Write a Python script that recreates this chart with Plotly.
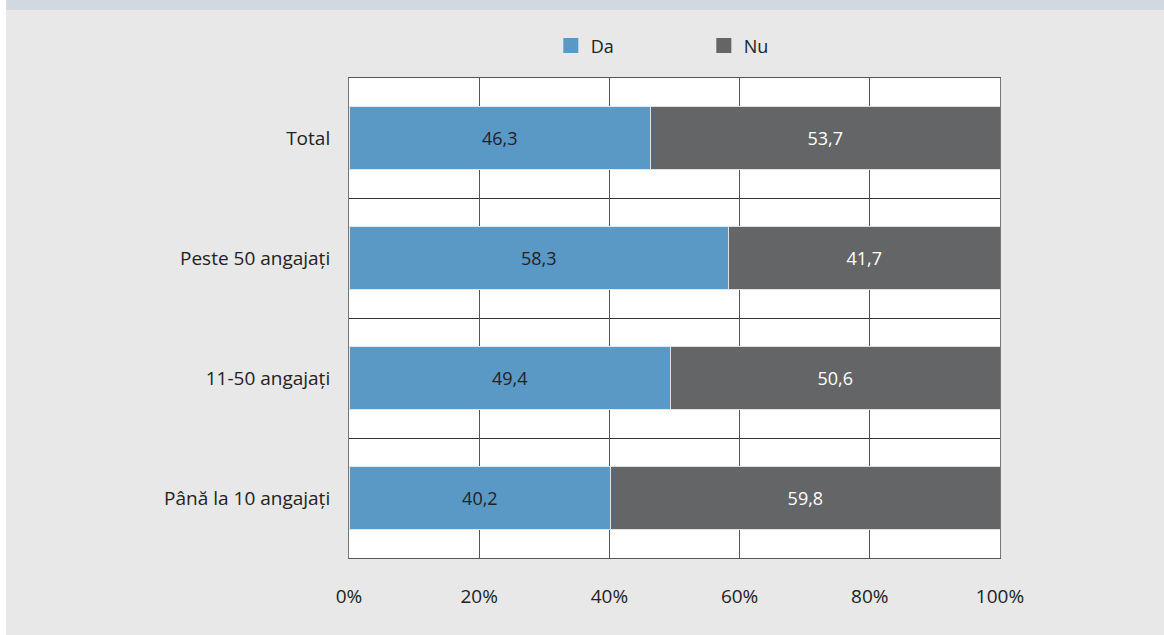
import plotly.graph_objects as go

categories = ["Total", "Peste 50 angajați", "11-50 angajați", "Până la 10 angajați"]
da_values = [46.3, 58.3, 49.4, 40.2]
nu_values = [53.7, 41.7, 50.6, 59.8]
x_ticks = [0, 20, 40, 60, 80, 100]
x_tick_labels = ["0%", "20%", "40%", "60%", "80%", "100%"]
series_names = ["Da", "Nu"]
series_colors = ["#5a98c5", "#646567"]

ypos = list(range(len(categories)))

def fmt(v):
    return f"{v:.1f}".replace(".", ",")

FONT = "Open Sans, Noto Sans, sans-serif"

fig = go.Figure()
fig.add_trace(go.Bar(
    name=series_names[0], y=ypos, x=da_values, orientation="h",
    marker=dict(color=series_colors[0], line=dict(color="#dfe8f0", width=1)),
    text=[fmt(v) for v in da_values], textposition="inside", insidetextanchor="middle",
    textfont=dict(color="#222222", size=18, family=FONT),
    width=0.525, showlegend=False,
))
fig.add_trace(go.Bar(
    name=series_names[1], y=ypos, x=nu_values, orientation="h",
    marker=dict(color=series_colors[1], line=dict(color="#e0e0e0", width=1)),
    text=[fmt(v) for v in nu_values], textposition="inside", insidetextanchor="middle",
    textfont=dict(color="#ffffff", size=18, family=FONT),
    width=0.525, showlegend=False,
))
# legend entries with larger square swatches
for name, col in zip(series_names, series_colors):
    fig.add_trace(go.Scatter(
        name=name, x=[None], y=[None], mode="markers",
        marker=dict(symbol="square", size=15, color=col),
        showlegend=True, hoverinfo="skip",
    ))

fig.update_layout(
    barmode="stack",
    width=1164, height=635,
    paper_bgcolor="#e8e8e8",
    plot_bgcolor="#ffffff",
    margin=dict(l=349, r=164, t=78, b=77),
    font=dict(family=FONT, size=18, color="#222222"),
    showlegend=True,
    legend=dict(
        orientation="h", x=0.31, xanchor="left", y=1.067, yanchor="middle",
        font=dict(size=18, color="#222222", family=FONT),
        entrywidth=108, entrywidthmode="pixels",
        bgcolor="rgba(0,0,0,0)", traceorder="normal",
    ),
    uniformtext=dict(mode="show", minsize=10),
    shapes=[
        dict(type="rect", xref="paper", yref="paper",
             x0=-0.55, x1=1.3, y0=1.0 + 68/480, y1=1.3,
             fillcolor="#d0d9e0", line=dict(width=0), layer="below"),
        dict(type="rect", xref="paper", yref="paper",
             x0=-0.6, x1=-0.536 + 6/651, y0=-0.3, y1=1.3,
             fillcolor="#ffffff", line=dict(width=0), layer="below"),
    ],
)

fig.update_xaxes(
    range=[0, 100],
    tickvals=x_ticks, ticktext=x_tick_labels,
    showgrid=True, gridcolor="#555555", gridwidth=1,
    showline=True, linecolor="#555555", linewidth=1, mirror=True,
    ticks="", ticklabelstandoff=21,
    tickfont=dict(size=19, color="#222222", family=FONT),
    zeroline=False, fixedrange=True,
)
fig.update_yaxes(
    range=[len(categories) - 0.5, -0.5],
    tickvals=ypos, ticktext=categories,
    showgrid=False,
    minor=dict(tick0=0.5, dtick=1, showgrid=True, gridcolor="#333333", gridwidth=1, ticks=""),
    showline=True, linecolor="#777777", linewidth=1, mirror=True,
    ticks="", ticklabelstandoff=14,
    tickfont=dict(size=19, color="#222222", family=FONT),
    zeroline=False, fixedrange=True,
)

fig.write_html("out.html", config={"displayModeBar": False},
               post_script="document.body.style.margin='0';")
